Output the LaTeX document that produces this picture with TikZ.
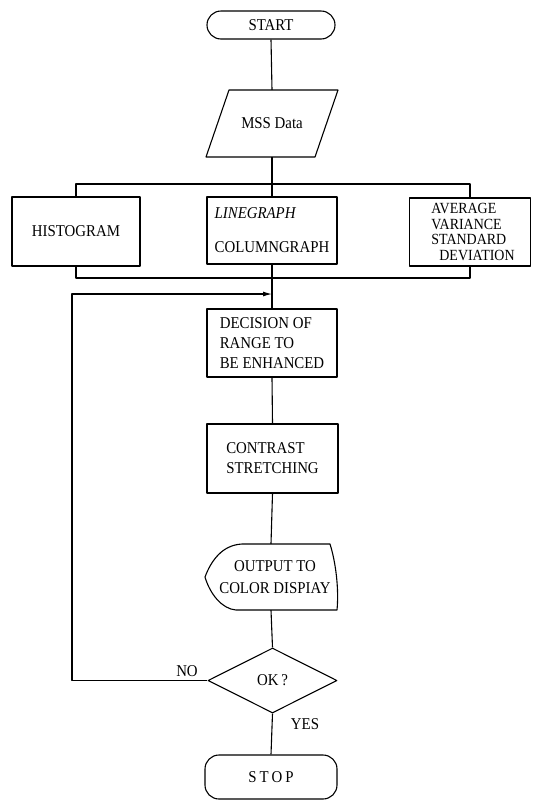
\documentclass[tikz,border=0pt]{standalone}
\usepackage{fontspec}
\setmainfont{Liberation Serif}[FakeStretch=0.9]
\usetikzlibrary{shapes.geometric,arrows.meta,calc}
\tikzset{
  line/.style={line width=1.1pt, line join=round},
  box/.style={line, draw, rectangle, inner sep=0pt, font=\fontsize{16.5}{20}\selectfont},
  term/.style={box, rounded corners=14pt},
  ghost/.style={rectangle, inner sep=0pt, font=\fontsize{16.5}{20}\selectfont},
  lbl/.style={inner sep=0pt, font=\fontsize{16.5}{20}\selectfont},
}
\begin{document}
\begin{tikzpicture}[x=1pt,y=-1pt]
\useasboundingbox[fill=white] (0,0) rectangle (533,801);

% nodes
\node[term, minimum width=128pt, minimum height=28pt] (start) at (271,25) {START};
\node[ghost, minimum width=109pt, minimum height=67pt] (mss) at (272,123.5) {MSS Data};
\draw[line] (229,90) -- (338,90) -- (315,157) -- (206,157) -- cycle;

\node[box, minimum width=128pt, minimum height=69pt] (hist) at (76,231.5) {HISTOGRAM};
\node[box, minimum width=130pt, minimum height=67pt, align=left, font=\fontsize{16.5}{34}\selectfont] (mid) at (272,230.5) {\textit{LINEGRAPH}\\COLUMNGRAPH};
\node[box, minimum width=121pt, minimum height=68pt, align=left, font=\fontsize{15.5}{15.6}\selectfont] (avg) at (470,232) {\hspace*{6pt}AVERAGE\\\hspace*{6pt}VARIANCE\\\hspace*{6pt}STANDARD\\\hspace*{14pt}DEVIATION};

\node[box, minimum width=130pt, minimum height=68pt, align=left] (dec) at (272,343) {DECISION OF\\RANGE TO\\BE ENHANCED};
\node[box, minimum width=131pt, minimum height=69pt, align=left] (con) at (272.5,458.5) {CONTRAST\\STRETCHING};

\node[ghost, minimum width=132pt, minimum height=66pt, align=center, font=\fontsize{16.5}{22}\selectfont] (disp) at (271,577) {\hspace*{8pt}OUTPUT TO\\\hspace*{8pt}COLOR DISPIAY};
\draw[line] (205,577) .. controls (211,561) and (222,545) .. (242,544) -- (330,544)
  .. controls (336,563) and (339,590) .. (337,610) -- (236,610)
  .. controls (222,609) and (210,594) .. (205,577) -- cycle;

\node[line, draw, diamond, inner sep=0pt, minimum width=129pt, minimum height=65pt, font=\fontsize{16.5}{20}\selectfont] (ok) at (272.5,680.5) {OK\,?};
\node[term, minimum width=132pt, minimum height=44pt] (stop) at (271,777) {S\kern3pt T\kern3pt O\kern3pt P};

% coordinates
\coordinate (tb) at (272,184);
\coordinate (bb) at (272,278);
\coordinate (loopL) at (72,680.5);
\coordinate (loopT) at (272,294);

% connectors
\draw[line] (start.south) -- (mss.north);
\draw[line] (mss.south) -- (mid.north);
\draw[line] (hist.north) |- (avg.north |- tb) -- (avg.north);
\draw[line] (hist.south) |- (avg.south |- bb) -- (avg.south);
\draw[line] (mid.south) -- (dec.north);
\draw[line] (dec.south) -- (con.north);
\draw[line] (con.south) -- (disp.north);
\draw[line] (disp.south) -- (ok.north);
\draw[line] (ok.south) -- (stop.north);
\draw[line, -{Latex[length=9pt,width=5pt]}] (ok.west) -- (loopL) |- (loopT);

\node[lbl] (no) at (187,671) {NO};
\node[lbl] (yes) at (305,724) {YES};
\end{tikzpicture}
\end{document}
